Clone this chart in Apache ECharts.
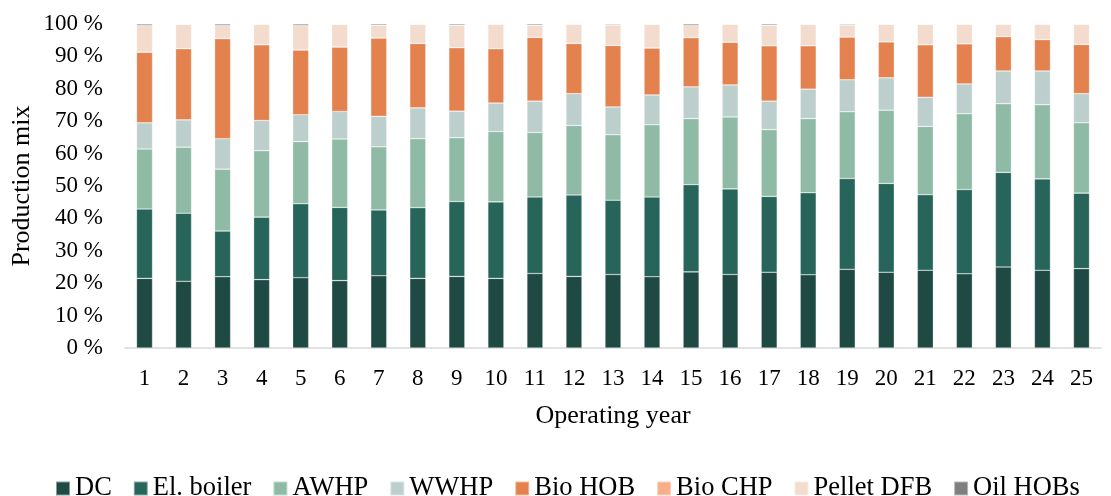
<!DOCTYPE html>
<html>
<head>
<meta charset="utf-8">
<script src="https://cdn.jsdelivr.net/npm/echarts@6/dist/echarts.min.js"></script>
<style>
html,body{margin:0;padding:0;background:#fff;}
#main{width:1111px;height:496px;}
</style>
</head>
<body>
<div id="main"></div>
<script>
var years = ['1','2','3','4','5','6','7','8','9','10','11','12','13','14','15','16','17','18','19','20','21','22','23','24','25'];
var seriesNames = ['DC','El. boiler','AWHP','WWHP','Bio HOB','Bio CHP','Pellet DFB','Oil HOBs'];
var seriesColors = ['#1f4a43','#27645a','#8fbba6','#bccfcc','#e4824f','#f9ae8a','#f3dccd','#7f7f7f'];

// andel av produksjon, %
var dc      = [21.5,20.6,22.0,21.1,21.7,20.8,22.3,21.5,22.1,21.5,23.0,22.1,22.7,22.0,23.5,22.7,23.4,22.6,24.3,23.4,24.0,22.9,25.0,24.0,24.5];
var elBoiler= [21.4,21.0,14.1,19.3,22.8,22.6,20.3,21.8,23.1,23.6,23.6,25.1,22.9,24.6,26.9,26.4,23.4,25.3,28.0,27.4,23.3,26.0,29.2,28.2,23.3];
var awhp    = [18.5,20.4,19.1,20.5,19.2,21.1,19.5,21.3,19.7,21.7,19.9,21.5,20.2,22.3,20.4,22.2,20.6,22.9,20.6,22.6,21.1,23.4,21.2,22.9,21.7];
var wwhp    = [8.1,8.4,9.4,9.3,8.3,8.5,9.4,9.5,8.2,8.8,9.7,9.8,8.6,9.2,9.8,9.9,8.8,9.1,9.9,10.0,9.0,9.2,10.1,10.4,9.0];
var bioHob  = [21.8,22.0,30.9,23.4,20.0,19.9,24.2,19.9,19.6,16.8,19.7,15.5,19.0,14.5,15.2,13.2,17.1,13.4,13.2,11.1,16.2,12.4,10.6,9.7,15.2];
var bioChp  = [0,0,0,0,0,0,0,0,0,0,0,0,0,0,0,0,0,0,0,0,0,0,0,0,0];
var pellet  = [8.2,7.5,4.0,6.3,7.5,7.0,3.9,5.9,6.9,7.5,3.7,5.9,6.3,7.3,3.7,5.5,6.3,6.6,3.7,5.4,6.3,6.0,3.8,4.7,6.2];
var oilHobs = [0.5,0.1,0.5,0.1,0.5,0.1,0.4,0.1,0.4,0.1,0.4,0.1,0.3,0.1,0.5,0.1,0.4,0.1,0.3,0.1,0.1,0.1,0.1,0.1,0.1];
var yTicks = [0,10,20,30,40,50,60,70,80,90,100];

var allData = [dc,elBoiler,awhp,wwhp,bioHob,bioChp,pellet,oilHobs];
var fontName = '"Liberation Serif", "Times New Roman", serif';

var series = [];
for (var i = 0; i < seriesNames.length; i++) {
    series.push({
        name: seriesNames[i],
        type: 'bar',
        stack: 'mix',
        barWidth: 16,
        data: allData[i],
        itemStyle: {color: seriesColors[i], borderColor: 'rgba(255,255,255,0.45)', borderWidth: 0.6}
    });
}

var myChart = echarts.init(document.getElementById('main'));
myChart.setOption({
    animation: false,
    textStyle: {fontFamily: fontName},
    grid: {left: 125, right: 10, top: 24, bottom: 148},
    legend: {
        top: 470,
        left: 50,
        itemWidth: 14,
        itemHeight: 14,
        itemGap: 21,
        icon: 'rect',
        textStyle: {fontFamily: fontName, fontSize: 26.5, color: '#000'},
        data: seriesNames
    },
    xAxis: {
        type: 'category',
        data: years,
        name: 'Operating year',
        nameLocation: 'middle',
        nameGap: 55,
        nameMoveOverlap: false,
        nameTextStyle: {fontFamily: fontName, fontSize: 26, color: '#000'},
        axisLine: {lineStyle: {color: '#d9d9d9', width: 1.5}},
        axisTick: {show: false},
        axisLabel: {fontFamily: fontName, fontSize: 23, color: '#000', margin: 19}
    },
    yAxis: {
        type: 'value',
        min: 0,
        max: 100,
        interval: 10,
        name: 'Production mix',
        nameLocation: 'middle',
        nameGap: 90,
        nameMoveOverlap: false,
        nameTextStyle: {fontFamily: fontName, fontSize: 26, color: '#000'},
        axisLine: {show: false},
        axisTick: {show: false},
        splitLine: {show: false},
        axisLabel: {
            fontFamily: fontName, fontSize: 23, color: '#000', margin: 22,
            formatter: function (v) { return yTicks.indexOf(v) >= 0 ? v + ' %' : ''; }
        }
    },
    series: series
});
</script>
</body>
</html>
